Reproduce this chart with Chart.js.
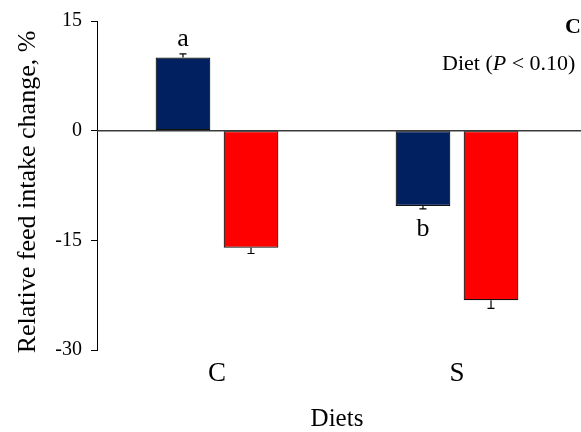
<!DOCTYPE html>
<html>
<head>
<meta charset="utf-8">
<script src="https://cdn.jsdelivr.net/npm/chart.js@4/dist/chart.umd.min.js"></script>
<style>
  html, body { margin: 0; padding: 0; background: #fff; }
  #wrap { width: 581px; height: 432px; position: relative; }
</style>
</head>
<body>
<div id="wrap"><canvas id="c" width="581" height="432"></canvas></div>
<script>
// ---- data ----
const categories = ['C', 'S'];
const seriesNames = ['Group 1', 'Group 2'];
const navyValues = [10.0, -10.3];
const navyErrors = [0.5, 0.4];
const redValues = [-16.0, -23.2];
const redErrors = [0.8, 1.1];
const navyLetters = ['a', 'b'];
const redLetters = ['', ''];
const yTickValues = [-30, -15, 0, 15];
const yTitle = 'Relative feed intake change, %\u2002';
const xTitle = 'Diets';
const panelLabel = 'C';
const noteParts = ['Diet (', 'P', ' < 0.10)'];

const FONT = "'Liberation Serif', 'Times New Roman', serif";
const NAVY = '#002060';
const RED = '#FF0000';

const errorPlugin = {
  id: 'errorBars',
  beforeDatasetsDraw(chart) {
    const ctx = chart.ctx;
    const y = chart.scales.y;
    const y0 = y.getPixelForValue(0);
    ctx.save();
    ctx.strokeStyle = '#3a3a3a';
    ctx.lineWidth = 1.5;
    ctx.beginPath();
    ctx.moveTo(chart.chartArea.left, y0);
    ctx.lineTo(chart.width, y0);
    ctx.stroke();
    ctx.restore();
  },
  afterDatasetsDraw(chart) {
    const ctx = chart.ctx;
    const y = chart.scales.y;
    const errs = [navyErrors, redErrors];
    const letters = [navyLetters, redLetters];
    ctx.save();
    chart.data.datasets.forEach((ds, di) => {
      const meta = chart.getDatasetMeta(di);
      meta.data.forEach((bar, i) => {
        const v = ds.data[i];
        const e = errs[di][i];
        const end = v >= 0 ? v + e : v - e;
        const pBar = y.getPixelForValue(v);
        const pEnd = y.getPixelForValue(end);
        ctx.strokeStyle = '#000';
        ctx.lineWidth = 1.2;
        ctx.beginPath();
        ctx.moveTo(bar.x, pBar);
        ctx.lineTo(bar.x, pEnd);
        ctx.moveTo(bar.x - 3.5, pEnd);
        ctx.lineTo(bar.x + 3.5, pEnd);
        ctx.stroke();
        const L = letters[di][i];
        if (L) {
          ctx.fillStyle = '#000';
          ctx.font = '26px ' + FONT;
          ctx.textAlign = 'center';
          ctx.textBaseline = 'alphabetic';
          ctx.fillText(L, bar.x, v >= 0 ? pEnd - 8 : pEnd + 27);
        }
      });
    });
    // panel label and note
    ctx.fillStyle = '#000';
    ctx.textBaseline = 'alphabetic';
    ctx.textAlign = 'left';
    ctx.font = 'bold 22px ' + FONT;
    ctx.fillText(panelLabel, 565, 33);
    let x = 442;
    const fonts = ['22px ' + FONT, 'italic 22px ' + FONT, '22px ' + FONT];
    noteParts.forEach((t, k) => {
      ctx.font = fonts[k];
      ctx.fillText(t, x, 69.5);
      x += ctx.measureText(t).width;
    });
    ctx.restore();
  }
};

new Chart(document.getElementById('c'), {
  type: 'bar',
  data: {
    labels: categories,
    datasets: [
      { label: seriesNames[0], data: navyValues, backgroundColor: NAVY, borderColor: '#111', borderWidth: 1.2, borderSkipped: false },
      { label: seriesNames[1], data: redValues, backgroundColor: RED, borderColor: '#111', borderWidth: 1.2, borderSkipped: false }
    ]
  },
  options: {
    responsive: false,
    devicePixelRatio: 1,
    animation: false,
    categoryPercentage: 0.567,
    barPercentage: 0.804,
    layout: { padding: { top: 20, right: 4, left: 0, bottom: 0 } },
    plugins: { legend: { display: false }, tooltip: { enabled: false }, title: { display: false } },
    scales: {
      x: {
        offset: true,
        grid: { display: false },
        border: { display: false },
        ticks: { font: { family: FONT, size: 27 }, color: '#000', padding: 0, maxRotation: 0 },
        title: { display: true, text: xTitle, color: '#000', font: { family: FONT, size: 25 }, padding: { top: 0, bottom: -2 } },
        afterFit: s => { s.height = 82; }
      },
      y: {
        min: -30, max: 15,
        afterBuildTicks: s => { s.ticks = yTickValues.map(v => ({ value: v })); },
        ticks: { font: { family: FONT, size: 20 }, color: '#000', padding: 9 },
        grid: { display: true, drawOnChartArea: false, drawTicks: true, tickLength: 6, tickColor: '#000', color: '#000' },
        border: { display: true, color: '#000', width: 1 },
        title: { display: true, text: yTitle, color: '#000', font: { family: FONT, size: 26 }, padding: { top: 13, bottom: 0 } },
        afterFit: s => { s.width = 97; }
      }
    }
  },
  plugins: [errorPlugin]
});
</script>
</body>
</html>
